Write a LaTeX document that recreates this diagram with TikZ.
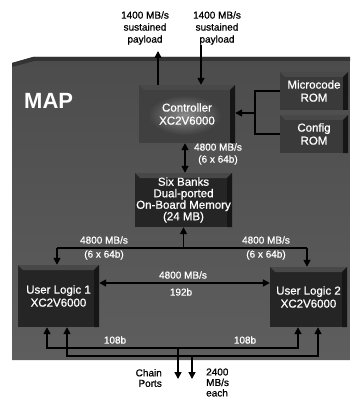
\documentclass[tikz,border=0pt]{standalone}
\usepackage{fontspec}
\setmainfont{Liberation Sans}
\newfontfamily\medfont{Liberation Sans}[FakeBold=0.8]
\newfontfamily\mapfont{Liberation Sans Bold}
\usetikzlibrary{arrows.meta}
\definecolor{panelA}{HTML}{4C4C4C}
\definecolor{panelB}{HTML}{5E5E5E}
\definecolor{boxdark}{HTML}{252525}
\definecolor{boxtop}{HTML}{484848}
\definecolor{boxside}{HTML}{161616}
\definecolor{romfill}{HTML}{3A3A3A}
\definecolor{ctrlouter}{HTML}{404040}
\definecolor{ctrlinner}{HTML}{8A8A8A}
\tikzset{
  arr/.style={line width=1.6pt, black, -{Triangle[width=7pt,length=7pt]}},
  darr/.style={line width=1.6pt, black, {Triangle[width=7pt,length=7pt]}-{Triangle[width=7pt,length=7pt]}},
  plain/.style={line width=1.6pt, black},
  lbl/.style={align=center, font=\medfont\fontsize{10}{12}\selectfont, inner sep=0pt},
  wlbl/.style={lbl, text=white},
  boxtxt/.style={align=center, text=white, font=\medfont\fontsize{11.5}{13}\selectfont},
  bevelbox/.style={boxtxt, fill=#1, inner sep=0pt,
    path picture={
      \fill[boxtop] (path picture bounding box.north west) -- (path picture bounding box.north east)
        -- ([shift={(-5pt,-5pt)}]path picture bounding box.north east) -- ([shift={(5pt,-5pt)}]path picture bounding box.north west) -- cycle;
      \fill[boxside] (path picture bounding box.north east) -- (path picture bounding box.south east)
        -- ([shift={(-5pt,0pt)}]path picture bounding box.south east) -- ([shift={(-5pt,-5pt)}]path picture bounding box.north east) -- cycle;
    }},
  ctrlbox/.style={boxtxt, fill=ctrlouter, inner sep=0pt,
    path picture={
      \fill[boxtop] (path picture bounding box.north west) -- (path picture bounding box.north east)
        -- ([shift={(-5pt,-5pt)}]path picture bounding box.north east) -- ([shift={(5pt,-5pt)}]path picture bounding box.north west) -- cycle;
      \fill[boxside] (path picture bounding box.north east) -- (path picture bounding box.south east)
        -- ([shift={(-5pt,0pt)}]path picture bounding box.south east) -- ([shift={(-5pt,-5pt)}]path picture bounding box.north east) -- cycle;
      \shade[inner color=ctrlinner, outer color=ctrlouter] ([shift={(9pt,-10pt)}]path picture bounding box.north west) rectangle ([shift={(-14pt,8pt)}]path picture bounding box.south east);
    }}
}
\begin{document}
\begin{tikzpicture}[x=1pt,y=-1pt]
\useasboundingbox (0,0) rectangle (350,398);
\fill[white] (0,0) rectangle (350,398);
% panel
\shade[top color=panelA, bottom color=panelB] (12,63) -- (33,57) -- (350,57) -- (350,360) -- (12,360) -- cycle;
\fill[black!80] (12,63) -- (33,57) -- (350,57) -- (350,61) -- (34,61) -- (12,67) -- cycle;
\node[font=\mapfont\fontsize{22}{22}\selectfont, text=white, anchor=west, inner sep=0pt] (map) at (24,101) {MAP};

% boxes
\node[ctrlbox, minimum width=96pt, minimum height=58pt] (ctrl) at (187,114) {Controller\\XC2V6000};
\node[bevelbox=romfill, minimum width=68pt, minimum height=38pt] (rom1) at (314,91) {Microcode\\ROM};
\node[bevelbox=romfill, minimum width=68pt, minimum height=38pt] (rom2) at (314,134) {Config\\ROM};
\node[bevelbox=boxdark, minimum width=97pt, minimum height=54pt, font=\medfont\fontsize{11.5}{11.5}\selectfont] (mem) at (183.5,200) {Six Banks\\Dual-ported\\On-Board Memory\\(24 MB)};
\node[bevelbox=boxdark, minimum width=81pt, minimum height=62pt] (ul1) at (58.5,296) {User Logic 1\\XC2V6000};
\node[bevelbox=boxdark, minimum width=77pt, minimum height=60pt] (ul2) at (308.5,297) {User Logic 2\\XC2V6000};

% top payload
\node[lbl] (t1) at (145,28) {1400 MB/s\\sustained\\payload};
\node[lbl] (t2) at (217,28) {1400 MB/s\\sustained\\payload};
\coordinate (o1) at (158,51);
\coordinate (i1) at (201,45);
\draw[arr] (ctrl.north -| o1) -- (o1);
\draw[arr] (i1) -- (ctrl.north -| i1);

% ROM bracket
\coordinate (j) at (255,113);
\draw[plain] (rom1.west) -| (j) |- (rom2.west);
\draw[arr] (j) -- (ctrl.east |- j);

% controller - memory
\draw[darr] (ctrl.south -| 185,0) -- (mem.north -| 185,0);
\node[wlbl] (l1) at (218,154) {4800 MB/s\\(6 x 64b)};

% memory bus
\coordinate (bl) at (57,248);
\coordinate (br) at (307,248);
\draw[plain] (bl) -- (br);
\draw[arr] (mem.south |- bl) -- (mem.south);
\draw[arr] (bl) -- (ul1.north -| bl);
\draw[arr] (br) -- (ul2.north -| br);
\node[wlbl, font=\medfont\fontsize{10}{14}\selectfont] (l2) at (104,248) {4800 MB/s\\(6 x 64b)};
\node[wlbl, font=\medfont\fontsize{10}{14}\selectfont] (l3) at (266,248) {4800 MB/s\\(6 x 64b)};

% UL to UL
\coordinate (m) at (0,283);
\draw[darr] (ul1.east |- m) -- (ul2.west |- m);
\node[wlbl] (l4) at (183,275) {4800 MB/s};
\node[wlbl] (l5) at (181,292) {192b};

% chain
\coordinate (a1) at (47,327);
\coordinate (a2) at (67,327);
\coordinate (b1) at (298,327);
\coordinate (b2) at (318,327);
\coordinate (c1) at (178,348);
\coordinate (c2) at (192,356);
\draw[darr] (ul1.south -| a1) |- (c1) -| (ul2.south -| b1);
\draw[darr] (ul1.south -| a2) |- (c2) -| (ul2.south -| b2);
\coordinate (e1) at (178,379);
\coordinate (e2) at (192,379);
\draw[arr] (c1) -- (e1);
\draw[arr] (c2) -- (e2);
\node[wlbl] (l6) at (115,340) {108b};
\node[wlbl] (l7) at (245,340) {108b};
\node[lbl, align=right, anchor=east, font=\medfont\fontsize{10}{10.5}\selectfont] (cp) at (162,378) {Chain\\Ports};
\node[lbl, align=left, anchor=west, font=\medfont\fontsize{10}{10.5}\selectfont] (rate) at (206,382.5) {2400\\MB/s\\each};
\end{tikzpicture}
\end{document}
